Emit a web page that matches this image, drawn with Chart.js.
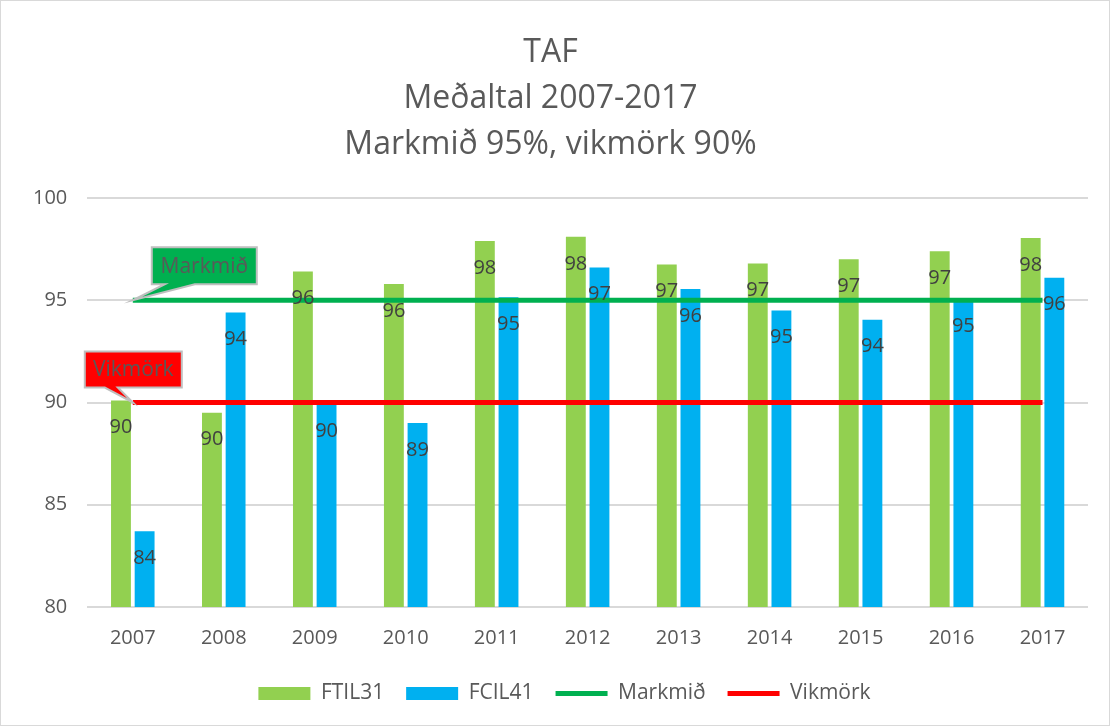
<!DOCTYPE html>
<html>
<head>
<meta charset="utf-8">
<script src="https://cdn.jsdelivr.net/npm/chart.js@4/dist/chart.umd.min.js"></script>
<style>
  body { margin: 0; background: #fff; }
  #wrap { width: 1108px; height: 724px; border: 1px solid #d9d9d9; }
</style>
</head>
<body>
<div id="wrap"><canvas id="taf" width="1108" height="724"></canvas></div>
<script>
var years = ['2007', '2008', '2009', '2010', '2011', '2012', '2013', '2014', '2015', '2016', '2017']
var ftil31 = [90.1, 89.5, 96.4, 95.8, 97.9, 98.1, 96.75, 96.8, 97.0, 97.4, 98.05]
var fcil41 = [83.7, 94.4, 89.9, 89.0, 95.15, 96.6, 95.55, 94.5, 94.05, 95.05, 96.1]
var markmid = [95, 95, 95, 95, 95, 95, 95, 95, 95, 95, 95]
var vikmork = [90, 90, 90, 90, 90, 90, 90, 90, 90, 90, 90]
var titleLines = ['TAF', 'Meðaltal 2007-2017', 'Markmið 95%, vikmörk 90%']

var fontName = "'Open Sans', 'Noto Sans', sans-serif"

// numbers inside the top of each bar
var barLabels = {
  id: 'barLabels',
  afterDatasetsDraw: function(chart) {
    var ctx = chart.ctx
    ctx.save()
    ctx.font = '20px ' + fontName
    ctx.fillStyle = '#404040'
    ctx.textAlign = 'center'
    ctx.textBaseline = 'middle'
    chart.data.datasets.forEach(function(ds, i) {
      if (ds.type != 'bar') return
      chart.getDatasetMeta(i).data.forEach(function(bar, j) {
        ctx.fillText(Math.round(ds.data[j]), bar.x, bar.y + 27)
      })
    })
    ctx.restore()
  }
}

// callout boxes pointing at the start of the two lines
function callout(ctx, text, fill, px, py, bx, by, bw, bh, b1, b2) {
  ctx.beginPath()
  ctx.moveTo(bx, by)
  ctx.lineTo(bx + bw, by)
  ctx.lineTo(bx + bw, by + bh)
  ctx.lineTo(b2, by + bh)
  ctx.lineTo(px, py)
  ctx.lineTo(b1, by + bh)
  ctx.lineTo(bx, by + bh)
  ctx.closePath()
  ctx.fillStyle = fill
  ctx.fill()
  ctx.strokeStyle = '#bfbfbf'
  ctx.lineWidth = 2
  ctx.stroke()
  ctx.fillStyle = '#595959'
  ctx.font = '21px ' + fontName
  ctx.textAlign = 'center'
  ctx.textBaseline = 'middle'
  ctx.fillText(text, bx + bw / 2, by + bh / 2 + 1)
}

var callouts = {
  id: 'callouts',
  afterDraw: function(chart) {
    var ctx = chart.ctx
    var x0 = chart.scales.x.getPixelForValue(0)
    var y95 = chart.scales.y.getPixelForValue(95)
    var y90 = chart.scales.y.getPixelForValue(90)
    ctx.save()
    callout(ctx, 'Markmið', '#00b050', x0, y95, x0 + 19, y95 - 53, 105, 37, x0 + 32, x0 + 62)
    callout(ctx, 'Vikmörk', '#ff0000', x0, y90, x0 - 48, y90 - 51, 97, 36, x0 - 28, x0 - 15)
    ctx.restore()
  }
}

// the legend sits a little right of centre in the original
var legendShift = {
  id: 'legendShift',
  afterLayout: function(chart) {
    chart.legend.left += 14
    chart.legend.right += 14
  }
}

var ctx = document.getElementById('taf').getContext('2d')
new Chart(ctx, {
  data: {
    labels: years,
    datasets: [
      { type: 'line', label: 'Markmið', data: markmid, borderColor: '#00b050', backgroundColor: '#00b050',
        borderWidth: 5, pointRadius: 0, pointStyle: 'line', order: 0 },
      { type: 'line', label: 'Vikmörk', data: vikmork, borderColor: '#ff0000', backgroundColor: '#ff0000',
        borderWidth: 5, pointRadius: 0, pointStyle: 'line', order: 0 },
      { type: 'bar', label: 'FTIL31', data: ftil31, backgroundColor: '#92d050', pointStyle: 'rect',
        categoryPercentage: 0.52, barPercentage: 0.84, order: 1 },
      { type: 'bar', label: 'FCIL41', data: fcil41, backgroundColor: '#00b0f0', pointStyle: 'rect',
        categoryPercentage: 0.52, barPercentage: 0.84, order: 1 }
    ]
  },
  options: {
    responsive: false,
    animation: false,
    events: [],
    layout: { padding: { left: 12, right: 21, top: 29, bottom: 11 } },
    scales: {
      x: {
        grid: { display: false },
        border: { display: false },
        ticks: { color: '#595959', font: { family: fontName, size: 20 }, padding: 11 }
      },
      y: {
        min: 80, max: 100,
        ticks: { stepSize: 5, color: '#595959', font: { family: fontName, size: 20 }, padding: 20 },
        grid: { color: '#d9d9d9', lineWidth: 2, drawTicks: false },
        border: { display: false }
      }
    },
    plugins: {
      title: {
        display: true,
        text: titleLines,
        color: '#595959',
        font: { family: fontName, size: 32, weight: 'normal', lineHeight: 1.4375 },
        padding: { top: 0, bottom: 30 }
      },
      legend: {
        position: 'bottom',
        labels: {
          color: '#595959',
          font: { family: fontName, size: 21 },
          usePointStyle: true,
          pointStyleWidth: 52,
          boxHeight: 13,
          padding: 22,
          sort: function(a, b) { return [2, 3, 0, 1].indexOf(a.datasetIndex) - [2, 3, 0, 1].indexOf(b.datasetIndex) }
        }
      },
      tooltip: { enabled: false }
    }
  },
  plugins: [barLabels, callouts, legendShift]
})
</script>
</body>
</html>
